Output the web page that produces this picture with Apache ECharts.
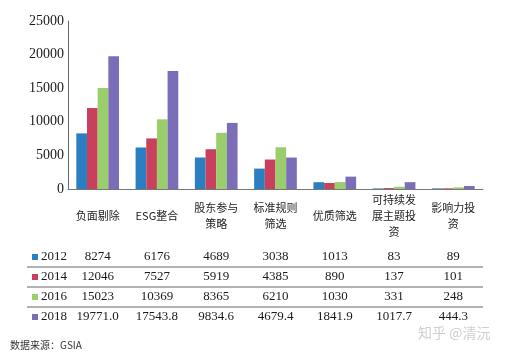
<!DOCTYPE html>
<html>
<head>
<meta charset="utf-8">
<script src="https://cdn.jsdelivr.net/npm/echarts@6/dist/echarts.min.js"></script>
<style>html,body{margin:0;padding:0;background:#fff}#c{width:512px;height:357px}</style>
</head>
<body>
<div id="c"></div>
<script>
var categories = ['负面剔除', 'ESG整合', '股东参与\n策略', '标准规则\n筛选', '优质筛选', '可持续发\n展主题投\n资', '影响力投\n资'];
var years = ['2012', '2014', '2016', '2018'];
var v2012 = [8274, 6176, 4689, 3038, 1013, 83, 89];
var v2014 = [12046, 7527, 5919, 4385, 890, 137, 101];
var v2016 = [15023, 10369, 8365, 6210, 1030, 331, 248];
var v2018 = [19771.0, 17543.8, 9834.6, 4679.4, 1841.9, 1017.7, 444.3];
var yTicks = [0, 5000, 10000, 15000, 20000, 25000];
var colors = ['#2b7fc1', '#c8405c', '#9acd6c', '#7b6db8'];

var seriesValues = [v2012, v2014, v2016, v2018];
var decimals = [0, 0, 0, 1];
var FONT = "'Liberation Serif', 'Noto Sans CJK SC', serif";
var chart = echarts.init(document.getElementById('c'));

var xAxes = [{
  type: 'category', data: categories, gridIndex: 0,
  axisLine: {show: true, lineStyle: {color: '#777', width: 1}},
  axisTick: {show: false},
  axisLabel: {interval: 0, margin: 27, verticalAlign: 'middle', fontSize: 11, lineHeight: 16, color: '#222', fontFamily: "'Noto Sans CJK SC', sans-serif"}
}];
seriesValues.forEach(function (vals, i) {
  xAxes.push({
    type: 'category', gridIndex: 0, position: 'bottom', offset: 68 + i * 20,
    data: vals.map(function (v) { return v.toFixed(decimals[i]); }),
    axisLine: {show: false}, axisTick: {show: false},
    axisLabel: {interval: 0, margin: 0, verticalAlign: 'middle', fontSize: 13, color: '#1a1a1a', fontFamily: FONT}
  });
});

var lines = [267, 287, 307].map(function (y) {
  return {type: 'line', shape: {x1: 27, y1: y, x2: 483, y2: y}, style: {stroke: '#666', lineWidth: 1}};
});

chart.setOption({
  animation: false,
  color: colors,
  grid: {left: 68, right: 29, top: 21, bottom: 168},
  legend: {
    orient: 'vertical', left: 32, top: 247, itemWidth: 6, itemHeight: 6, itemGap: 0, padding: 0,
    icon: 'rect', data: years,
    textStyle: {fontSize: 13, lineHeight: 20, height: 20, color: '#1a1a1a', fontFamily: FONT, padding: [0, 0, 0, -2]}
  },
  xAxis: xAxes,
  yAxis: {
    type: 'value', min: yTicks[0], max: yTicks[yTicks.length - 1], interval: 5000,
    axisLine: {show: true, lineStyle: {color: '#666'}},
    axisTick: {show: false},
    splitLine: {show: false},
    axisLabel: {margin: 4, fontSize: 14, color: '#1a1a1a', fontFamily: FONT, formatter: function (v) { return String(v); }}
  },
  series: seriesValues.map(function (vals, i) {
    return {name: years[i], type: 'bar', xAxisIndex: 0, data: vals, barGap: '0%', barCategoryGap: '28%'};
  }),
  graphic: lines.concat([
    {type: 'text', left: 10, top: 340, style: {text: '数据来源：GSIA', fontSize: 10, fill: '#333', fontFamily: "'Noto Sans CJK SC', sans-serif"}},
    {type: 'text', left: 418, top: 326, style: {text: '知乎 @清沅', fontSize: 14, fill: '#cfcfcf', fontFamily: "'Noto Sans CJK SC', sans-serif"}}
  ])
});
</script>
</body>
</html>
